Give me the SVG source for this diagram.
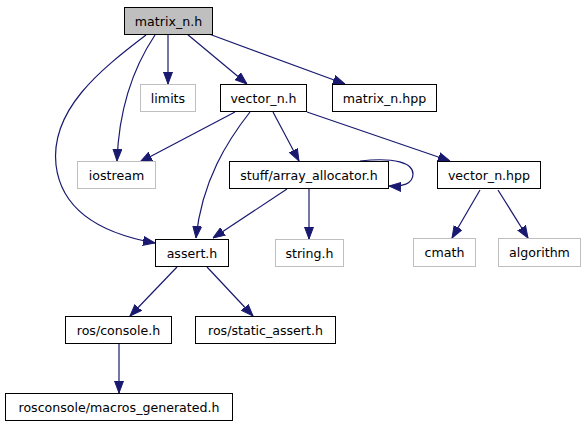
<svg xmlns="http://www.w3.org/2000/svg" width="587" height="427" viewBox="0 0 587 427">
<defs>
<style>
.n rect{fill:#ffffff;stroke:#000000;stroke-width:1}
.n.g rect{stroke:#bfbfbf}
.n.root rect{fill:#bfbfbf;stroke:#000000}
.n text{font-family:"DejaVu Sans",sans-serif;font-size:12.6px;fill:#000000;text-anchor:middle}
.e path{fill:none;stroke:#191970;stroke-width:1.2;marker-end:url(#ah)}
</style>
<marker id="ah" markerUnits="userSpaceOnUse" markerWidth="12" markerHeight="10" viewBox="0 0 12 10" refX="12" refY="5" orient="auto">
<path d="M0,0.5 L12,5 L0,9.5 z" fill="#191970" stroke="#191970" stroke-width="1"/>
</marker>
</defs>
<rect width="587" height="427" fill="#ffffff"/>
<g id="edges" class="e">
<path d="M168,34 L168,84"/>
<path d="M187,34 L247,84"/>
<path d="M209,34 L345,84"/>
<path d="M155,35 C135,65 119,105 117,161"/>
<path d="M146,35 C100,70 50,110 56,165 C62,215 110,235 155,243"/>
<path d="M235,112 L140,162"/>
<path d="M250,112 C228,140 202,180 196,238"/>
<path d="M273,112 L299,161"/>
<path d="M307,112 L450,161"/>
<path d="M360,161 C395,157 413,163 413,174 C413,184 402,187 389,186"/>
<path d="M287,189 L213,238"/>
<path d="M309,189 L309,239"/>
<path d="M480,190 L452,238"/>
<path d="M498,190 L528,238"/>
<path d="M177,267 L130,316"/>
<path d="M207,267 L253,316"/>
<path d="M119,344 L119,393"/>
</g>
<g id="n_matrix_n_h" class="n root"><rect x="124.5" y="7.5" width="88" height="27"/><text x="168.5" y="25.5">matrix_n.h</text></g>
<g id="n_limits" class="n g"><rect x="140.5" y="84.5" width="55" height="27"/><text x="168" y="102.5">limits</text></g>
<g id="n_vector_n_h" class="n"><rect x="220.5" y="84.5" width="86" height="27"/><text x="263.5" y="102.5">vector_n.h</text></g>
<g id="n_matrix_n_hpp" class="n"><rect x="332.5" y="84.5" width="104" height="27"/><text x="384.5" y="102.5">matrix_n.hpp</text></g>
<g id="n_iostream" class="n g"><rect x="77.5" y="161.5" width="78" height="27"/><text x="116.5" y="179.5">iostream</text></g>
<g id="n_array_allocator" class="n"><rect x="229.5" y="161.5" width="159" height="27"/><text x="309" y="179.5">stuff/array_allocator.h</text></g>
<g id="n_vector_n_hpp" class="n"><rect x="437.5" y="161.5" width="103" height="27"/><text x="489" y="179.5">vector_n.hpp</text></g>
<g id="n_assert_h" class="n"><rect x="155.5" y="239.5" width="73" height="27"/><text x="192" y="257.5">assert.h</text></g>
<g id="n_string_h" class="n g"><rect x="275.5" y="239.5" width="68" height="27"/><text x="309.5" y="257.5">string.h</text></g>
<g id="n_cmath" class="n g"><rect x="413.5" y="238.5" width="62" height="28"/><text x="444.5" y="257">cmath</text></g>
<g id="n_algorithm" class="n g"><rect x="498.5" y="238.5" width="82" height="28"/><text x="539.5" y="257">algorithm</text></g>
<g id="n_ros_console" class="n"><rect x="65.5" y="316.5" width="106" height="27"/><text x="118.5" y="334.5">ros/console.h</text></g>
<g id="n_ros_static_assert" class="n"><rect x="195.5" y="316.5" width="140" height="27"/><text x="265.5" y="334.5">ros/static_assert.h</text></g>
<g id="n_macros_generated" class="n"><rect x="5.5" y="393.5" width="227" height="27"/><text x="119" y="411.5">rosconsole/macros_generated.h</text></g>
</svg>
